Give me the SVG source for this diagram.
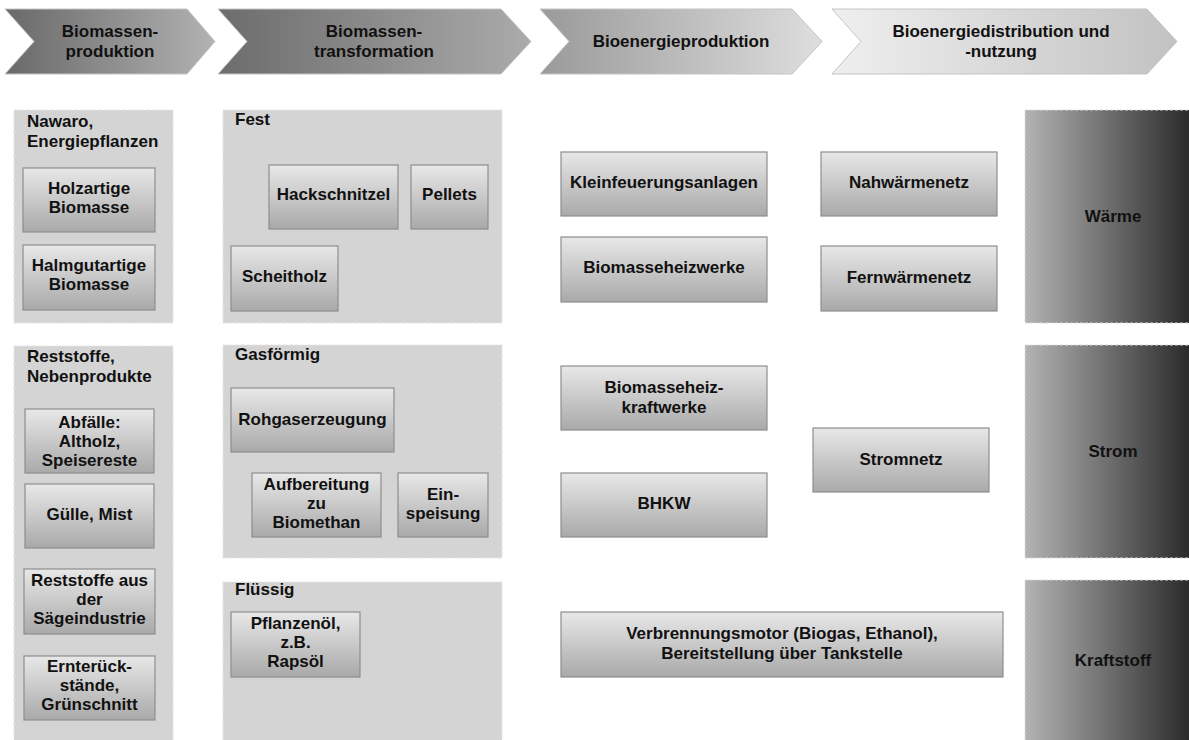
<svg xmlns="http://www.w3.org/2000/svg" width="1189" height="740" viewBox="0 0 1189 740">
<defs>
<linearGradient id="gC1" x1="0" y1="0" x2="1" y2="0"><stop offset="0" stop-color="#696969"/><stop offset="1" stop-color="#b2b2b2"/></linearGradient>
<linearGradient id="gC2" x1="0" y1="0" x2="1" y2="0"><stop offset="0" stop-color="#6c6c6c"/><stop offset="1" stop-color="#ababab"/></linearGradient>
<linearGradient id="gC3" x1="0" y1="0" x2="1" y2="0"><stop offset="0" stop-color="#9a9a9a"/><stop offset="1" stop-color="#dedede"/></linearGradient>
<linearGradient id="gC4" x1="0" y1="0" x2="1" y2="0"><stop offset="0" stop-color="#efefef"/><stop offset="1" stop-color="#c2c2c2"/></linearGradient>
<linearGradient id="gBox" x1="0" y1="0" x2="0" y2="1"><stop offset="0" stop-color="#e8e8e8"/><stop offset="1" stop-color="#a9a9a9"/></linearGradient>
<linearGradient id="gBar" x1="0" y1="0" x2="1" y2="0"><stop offset="0" stop-color="#b3b3b3"/><stop offset="1" stop-color="#262626"/></linearGradient>
</defs>
<style>
text{font-family:"Liberation Sans",Arial,sans-serif;font-weight:bold;font-size:17px;fill:#111}
.c{text-anchor:middle}
.chev{stroke:#c4c4c4;stroke-width:1}
.panel{fill:#d4d4d4;stroke:#e4e4e4;stroke-width:1.2;stroke-dasharray:4 2}
.box{fill:url(#gBox);stroke:#8e8e8e;stroke-width:1.2}
.bar{fill:url(#gBar);stroke:#dcdcdc;stroke-width:1;stroke-dasharray:3 2}
</style>
<rect width="1189" height="740" fill="#ffffff"/>

<g id="header">
<g id="chev1"><polygon class="chev" fill="url(#gC1)" points="5,9 187,9 215,41.5 187,74 5,74 34,41.5"/>
<text class="c" x="110" y="37">Biomassen-</text><text class="c" x="110" y="57">produktion</text></g>
<g id="chev2"><polygon class="chev" fill="url(#gC2)" points="218,9 501,9 531,41.5 501,74 218,74 247,41.5"/>
<text class="c" x="374" y="37">Biomassen-</text><text class="c" x="374" y="57">transformation</text></g>
<g id="chev3"><polygon class="chev" fill="url(#gC3)" points="540,9 792,9 822,41.5 792,74 540,74 569,41.5"/>
<text class="c" x="681" y="47">Bioenergieproduktion</text></g>
<g id="chev4"><polygon class="chev" fill="url(#gC4)" points="832,9 1147,9 1177,41.5 1147,74 832,74 861,41.5"/>
<text class="c" x="1001" y="37">Bioenergiedistribution und</text><text class="c" x="1001" y="57">-nutzung</text></g>
</g>

<g id="panels">
<g id="panel-nawaro"><rect class="panel" x="14" y="110" width="159" height="213"/>
<text x="27" y="127">Nawaro,</text><text x="27" y="147">Energiepflanzen</text></g>
<g id="panel-fest"><rect class="panel" x="223" y="110" width="279" height="213"/>
<text x="235" y="125">Fest</text></g>
<g id="panel-reststoffe"><rect class="panel" x="14" y="346" width="159" height="400"/>
<text x="27" y="362">Reststoffe,</text><text x="27" y="382">Nebenprodukte</text></g>
<g id="panel-gas"><rect class="panel" x="223" y="345" width="279" height="213"/>
<text x="235" y="360">Gasförmig</text></g>
<g id="panel-fluessig"><rect class="panel" x="223" y="582" width="279" height="164"/>
<text x="235" y="595">Flüssig</text></g>
</g>

<g id="n-holz"><rect class="box" x="23" y="168" width="132" height="64"/><text class="c" x="89" y="194">Holzartige</text><text class="c" x="89" y="213">Biomasse</text></g>
<g id="n-halm"><rect class="box" x="23" y="245" width="132" height="65"/><text class="c" x="89" y="271">Halmgutartige</text><text class="c" x="89" y="290">Biomasse</text></g>
<g id="n-hack"><rect class="box" x="269" y="165" width="129" height="64"/><text class="c" x="333.5" y="200">Hackschnitzel</text></g>
<g id="n-pellets"><rect class="box" x="411" y="165" width="77" height="64"/><text class="c" x="449.5" y="200">Pellets</text></g>
<g id="n-scheit"><rect class="box" x="231" y="246" width="107" height="65"/><text class="c" x="284.5" y="282">Scheitholz</text></g>
<g id="n-abfaelle"><rect class="box" x="25" y="409" width="129" height="64"/><text class="c" x="89.5" y="428">Abfälle:</text><text class="c" x="89.5" y="447">Altholz,</text><text class="c" x="89.5" y="466">Speisereste</text></g>
<g id="n-guelle"><rect class="box" x="25" y="484" width="129" height="64"/><text class="c" x="89.5" y="520">Gülle, Mist</text></g>
<g id="n-saege"><rect class="box" x="24" y="569" width="131" height="65"/><text class="c" x="89.5" y="586">Reststoffe aus</text><text class="c" x="89.5" y="605">der</text><text class="c" x="89.5" y="624">Sägeindustrie</text></g>
<g id="n-ernte"><rect class="box" x="24" y="656" width="131" height="64"/><text class="c" x="89.5" y="672">Ernterück-</text><text class="c" x="89.5" y="691">stände,</text><text class="c" x="89.5" y="710">Grünschnitt</text></g>
<g id="n-rohgas"><rect class="box" x="231" y="388" width="163" height="64"/><text class="c" x="312.5" y="425">Rohgaserzeugung</text></g>
<g id="n-aufb"><rect class="box" x="252" y="473" width="129" height="64"/><text class="c" x="316.5" y="490">Aufbereitung</text><text class="c" x="316.5" y="509">zu</text><text class="c" x="316.5" y="528">Biomethan</text></g>
<g id="n-einsp"><rect class="box" x="398" y="473" width="90" height="64"/><text class="c" x="443" y="500">Ein-</text><text class="c" x="443" y="519">speisung</text></g>
<g id="n-pflanz"><rect class="box" x="231" y="612" width="129" height="65"/><text class="c" x="295.5" y="629">Pflanzenöl,</text><text class="c" x="295.5" y="648">z.B.</text><text class="c" x="295.5" y="667">Rapsöl</text></g>
<g id="n-klein"><rect class="box" x="561" y="152" width="206" height="64"/><text class="c" x="664" y="188">Kleinfeuerungsanlagen</text></g>
<g id="n-nahw"><rect class="box" x="821" y="152" width="176" height="64"/><text class="c" x="909" y="188">Nahwärmenetz</text></g>
<g id="n-bhw"><rect class="box" x="561" y="237" width="206" height="65"/><text class="c" x="664" y="273">Biomasseheizwerke</text></g>
<g id="n-fernw"><rect class="box" x="821" y="246" width="176" height="65"/><text class="c" x="909" y="283">Fernwärmenetz</text></g>
<g id="n-bhkw-kw"><rect class="box" x="561" y="366" width="206" height="64"/><text class="c" x="664" y="393">Biomasseheiz-</text><text class="c" x="664" y="413">kraftwerke</text></g>
<g id="n-bhkw"><rect class="box" x="561" y="473" width="206" height="64"/><text class="c" x="664" y="509">BHKW</text></g>
<g id="n-strom"><rect class="box" x="813" y="428" width="176" height="64"/><text class="c" x="901" y="465">Stromnetz</text></g>
<g id="n-motor"><rect class="box" x="561" y="612" width="442" height="65"/><text class="c" x="782" y="639">Verbrennungsmotor (Biogas, Ethanol),</text><text class="c" x="782" y="659">Bereitstellung über Tankstelle</text></g>

<g id="bars">
<g id="bar-waerme"><rect class="bar" x="1025" y="110" width="170" height="213"/><text class="c" x="1113" y="222">Wärme</text></g>
<g id="bar-strom"><rect class="bar" x="1025" y="345" width="170" height="213"/><text class="c" x="1113" y="457">Strom</text></g>
<g id="bar-kraft"><rect class="bar" x="1025" y="580" width="170" height="170"/><text class="c" x="1113" y="666">Kraftstoff</text></g>
</g>

<g id="connectors"></g>
</svg>
